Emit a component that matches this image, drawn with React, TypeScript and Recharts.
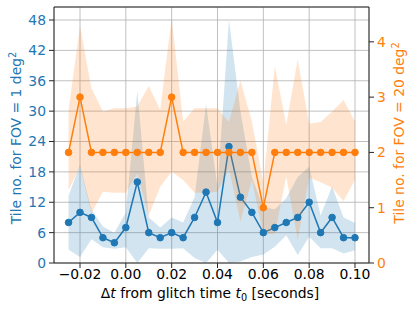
import {
  ComposedChart,
  Area,
  Line,
  XAxis,
  YAxis,
  CartesianGrid,
  ReferenceLine,
} from "recharts";

const timeOffsets = [
  -0.025, -0.02, -0.015, -0.01, -0.005, 0, 0.005, 0.01, 0.015, 0.02, 0.025,
  0.03, 0.035, 0.04, 0.045, 0.05, 0.055, 0.06, 0.065, 0.07, 0.075, 0.08,
  0.085, 0.09, 0.095, 0.1,
];

// FOV = 1 deg^2 (left axis)
const tiles1 = [8, 10, 9, 5, 4, 7, 16, 6, 5, 6, 5, 9, 14, 8, 23, 13, 10, 6, 7, 8, 9, 12, 6, 9, 5, 5];
const tiles1Low = [2.6, 1.2, 4.7, 3.1, 2.8, 3.1, 0, 2.9, 2.8, 2.8, 2.9, 1, 0, 2.6, 0, 0.3, 1.2, 1.7, 3.2, 5.5, 1.6, 5.2, 2.9, 2.9, 1.9, 2.5];
const tiles1High = [13.3, 19.4, 10.5, 7.2, 6, 10, 34, 9, 7, 9, 8, 13, 31.4, 15, 48, 30, 17, 11, 10.6, 12.8, 17, 19, 9.4, 15.1, 9, 7.9];

// FOV = 20 deg^2 (right axis)
const tiles20 = [2, 3, 2, 2, 2, 2, 2, 2, 2, 3, 2, 2, 2, 2, 2, 2, 2, 1, 2, 2, 2, 2, 2, 2, 2, 2];
const tiles20Low = [1.32, 1.74, 0.9, 1.29, 1.27, 1.27, 1.62, 0.86, 1.38, 1.65, 1.5, 1.27, 1.27, 1.29, 1.7, 0.75, 1.5, 0.52, 0.53, 1.56, 0.42, 1.54, 1.46, 1.36, 1.12, 1.5];
const tiles20High = [2.77, 4.28, 3.16, 2.74, 2.8, 2.8, 2.83, 3.2, 2.77, 4.43, 2.56, 2.8, 2.8, 2.8, 2.55, 3.3, 2.56, 1.45, 3.56, 2.5, 3.68, 2.52, 2.55, 2.74, 2.95, 2.56];

const xTicks = [-0.02, 0, 0.02, 0.04, 0.06, 0.08, 0.1];
const leftTicks = [0, 6, 12, 18, 24, 30, 36, 42, 48];
const rightTicks = [0, 1, 2, 3, 4];

const BLUE = "#1f77b4";
const ORANGE = "#ff7f0e";
const FONT = "DejaVu Sans";
const FS = 13.9;

const rows = timeOffsets.map((t, i) => ({
  t,
  small: tiles1[i],
  smallBand: [tiles1Low[i], tiles1High[i]],
  large: tiles20[i],
  largeBand: [tiles20Low[i], tiles20High[i]],
}));

const fmtX = (v: number) => v.toFixed(2).replace("-", "\u2212");

const LeftTitle = () => (
  <text
    transform="translate(21,138) rotate(-90)"
    textAnchor="middle"
    fill={BLUE}
    fontSize={FS}
    fontFamily={FONT}
  >
    Tile no. for FOV = 1 deg
    <tspan dy={-5.5} fontSize={9.7}>2</tspan>
  </text>
);

const RightTitle = () => (
  <text
    transform="translate(404,133) rotate(-90)"
    textAnchor="middle"
    fill={ORANGE}
    fontSize={FS}
    fontFamily={FONT}
  >
    Tile no. for FOV = 20 deg
    <tspan dy={-5.5} fontSize={9.7}>2</tspan>
  </text>
);

const XTitle = () => (
  <text x={210} y={298} textAnchor="middle" fill="#000" fontSize={FS} fontFamily={FONT}>
    Δ<tspan fontStyle="italic">t</tspan> from glitch time <tspan fontStyle="italic">t</tspan>
    <tspan dy={3} fontSize={9.7}>0</tspan>
    <tspan dy={-3}> [seconds]</tspan>
  </text>
);

export default function App() {
  return (
    <div style={{ position: "absolute", left: 0, top: 0, background: "#fff" }}>
      <ComposedChart
        width={415}
        height={311}
        data={rows}
        margin={{ top: 7, right: 0, bottom: 0, left: 0 }}
        style={{ fontFamily: FONT }}
      >
        <CartesianGrid yAxisId="left" stroke="#b0b0b0" strokeWidth={0.8} />
        <XAxis
          dataKey="t"
          type="number"
          domain={[-0.03135, 0.10611]}
          ticks={xTicks}
          tickFormatter={fmtX}
          allowDataOverflow
          height={48}
          stroke="#262626"
          tickSize={5}
          tickMargin={1}
          tick={{ fill: "#000", fontSize: FS }}
          label={<XTitle />}
        />
        <YAxis
          yAxisId="left"
          domain={[0, 50.57]}
          ticks={leftTicks}
          allowDataOverflow
          width={54}
          stroke="#262626"
          tickSize={5}
          tickMargin={3}
          tick={{ fill: BLUE, fontSize: FS }}
          label={<LeftTitle />}
        />
        <YAxis
          yAxisId="right"
          orientation="right"
          domain={[0, 4.63]}
          ticks={rightTicks}
          allowDataOverflow
          width={46}
          stroke="#262626"
          tickSize={5}
          tickMargin={3}
          tick={{ fill: ORANGE, fontSize: FS }}
          label={<RightTitle />}
        />
        <Area
          yAxisId="left"
          dataKey="smallBand"
          type="linear"
          stroke="none"
          fill={BLUE}
          fillOpacity={0.2}
          activeDot={false}
          isAnimationActive={false}
          zIndex={100}
        />
        <Line
          yAxisId="left"
          dataKey="small"
          type="linear"
          stroke={BLUE}
          strokeWidth={1.5}
          dot={{ r: 3.3, fill: BLUE, stroke: BLUE, strokeWidth: 1 }}
          activeDot={false}
          isAnimationActive={false}
          zIndex={400}
        />
        <Area
          yAxisId="right"
          dataKey="largeBand"
          type="linear"
          stroke="none"
          fill={ORANGE}
          fillOpacity={0.2}
          activeDot={false}
          isAnimationActive={false}
          zIndex={450}
        />
        <Line
          yAxisId="right"
          dataKey="large"
          type="linear"
          stroke={ORANGE}
          strokeWidth={1.5}
          dot={{ r: 3.3, fill: ORANGE, stroke: ORANGE, strokeWidth: 1 }}
          activeDot={false}
          isAnimationActive={false}
          zIndex={500}
        />
        <ReferenceLine yAxisId="left" y={50.57} stroke="#262626" strokeWidth={1} />
      </ComposedChart>
    </div>
  );
}
